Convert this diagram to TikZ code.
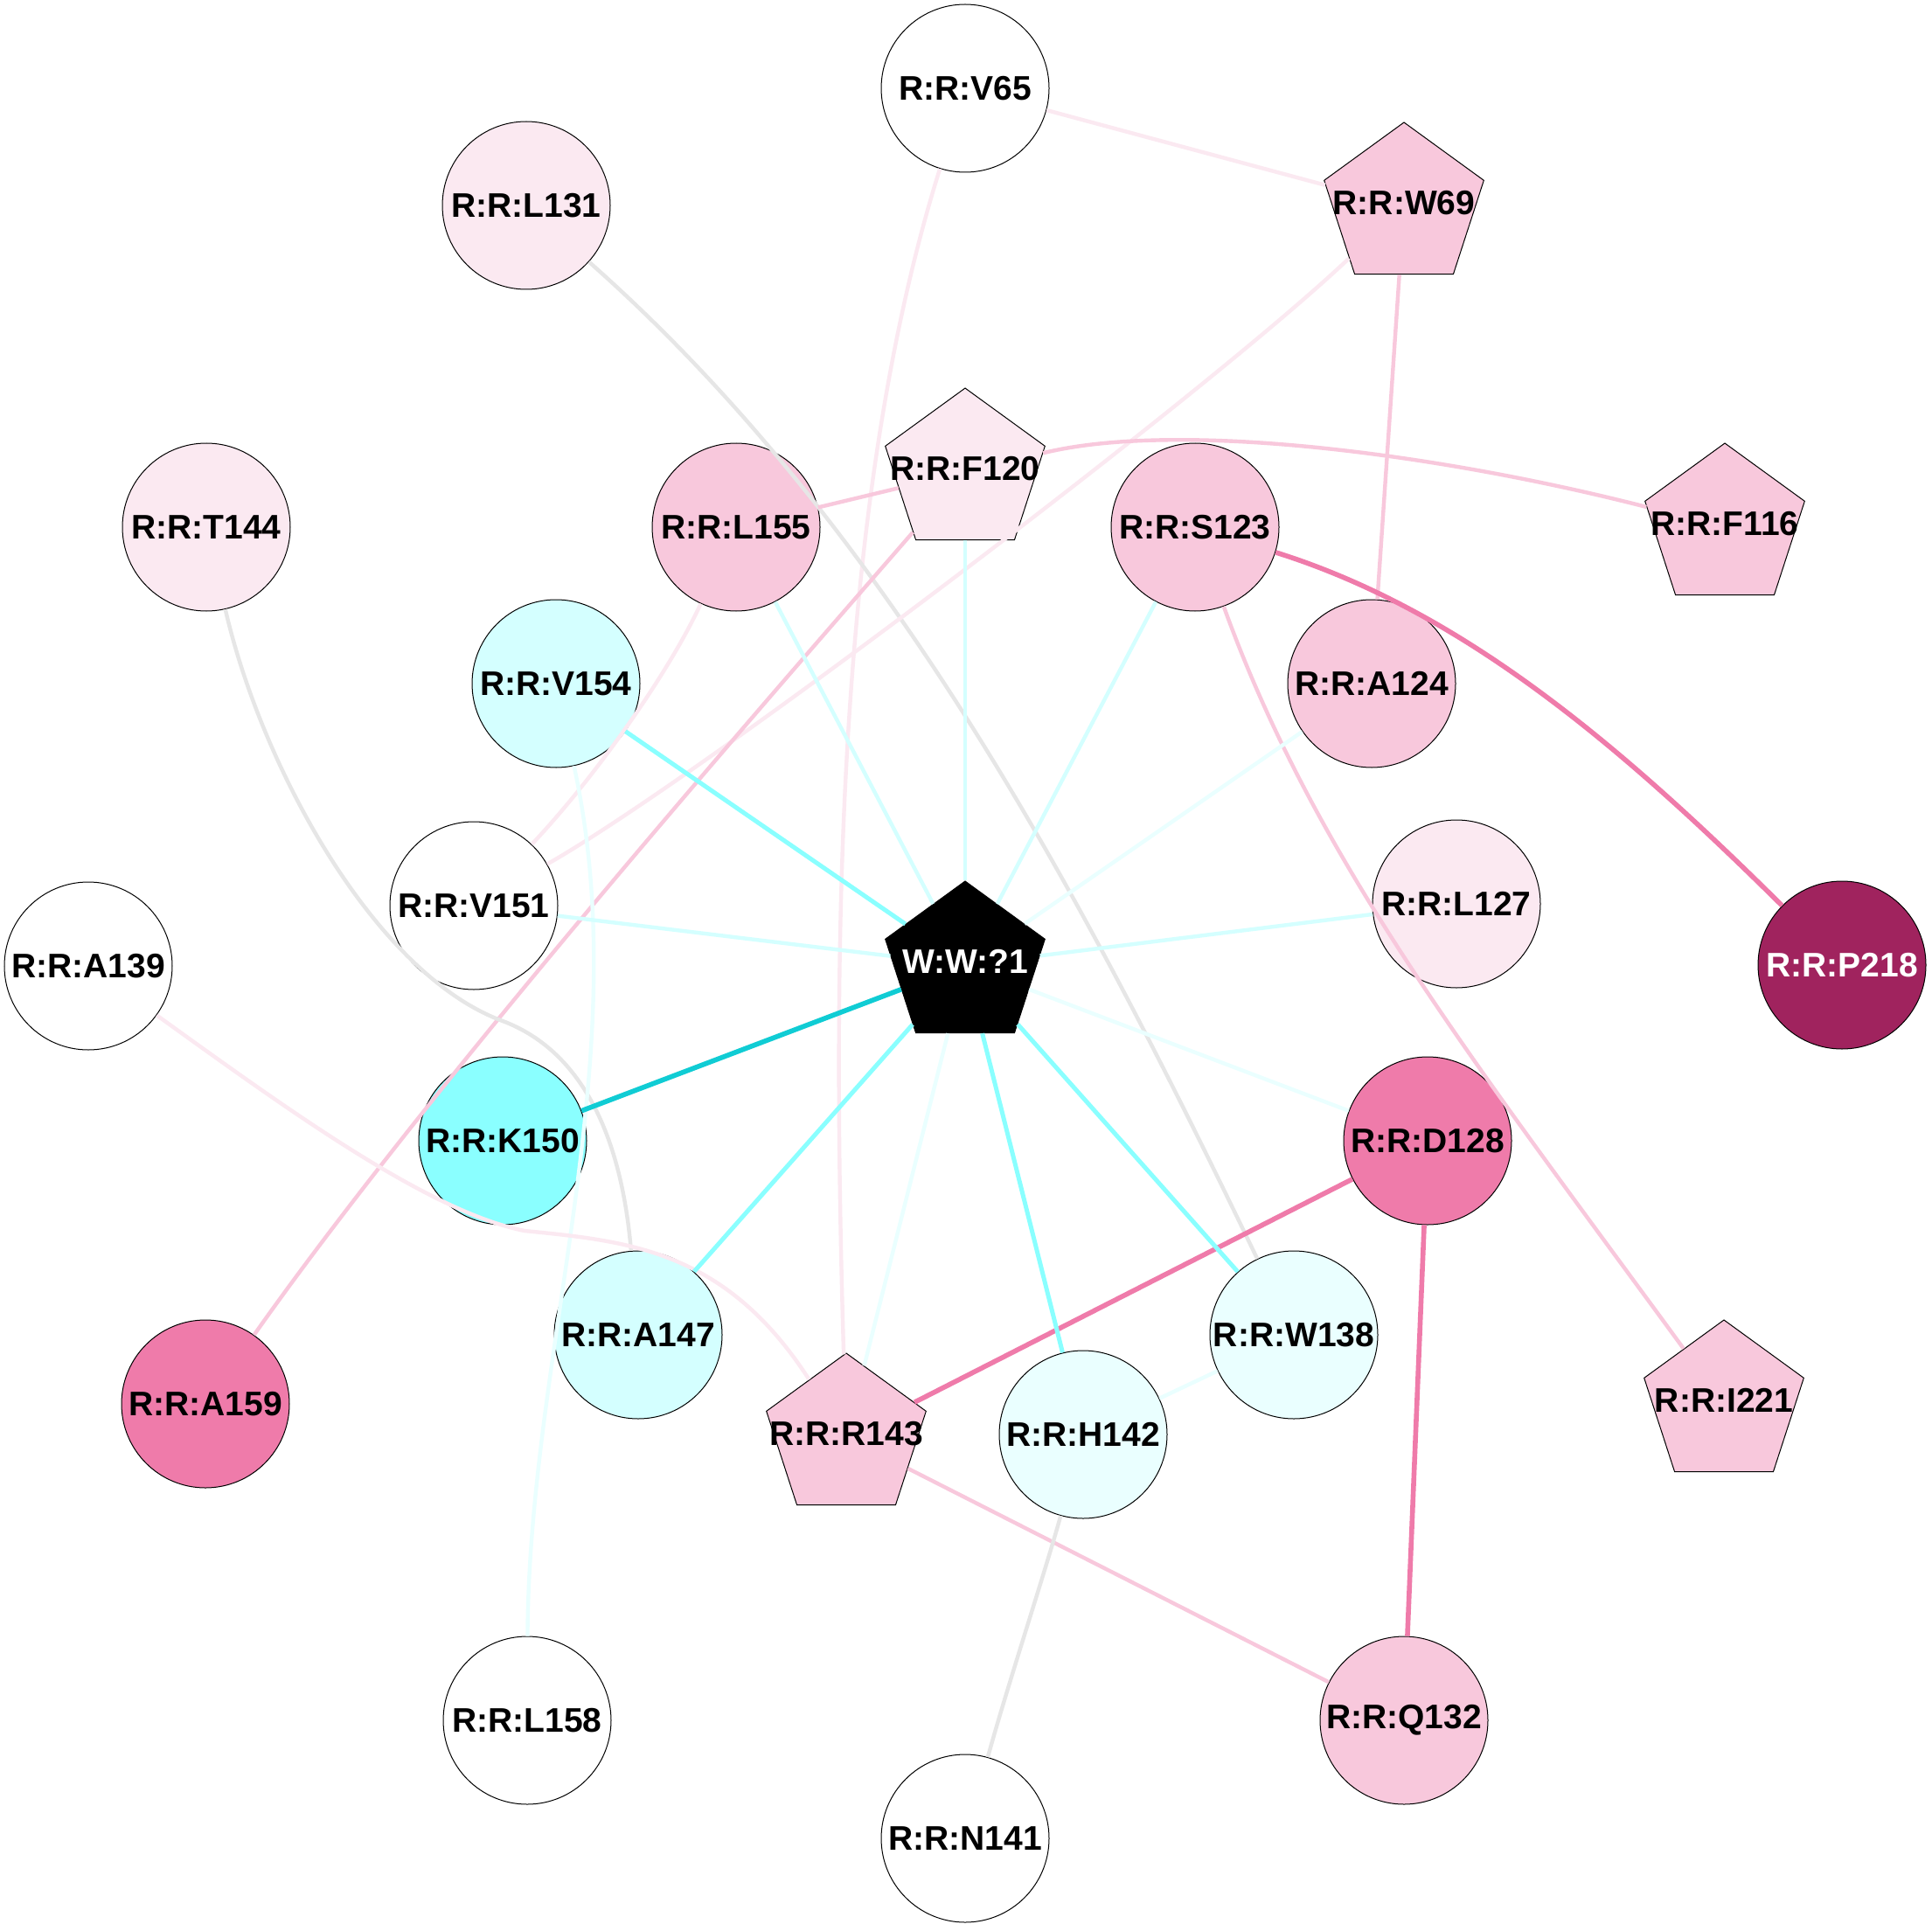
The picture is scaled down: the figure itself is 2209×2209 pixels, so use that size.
\documentclass[tikz,border=0pt]{standalone}
\usepackage{fontspec}
\setmainfont{Liberation Sans}
\usetikzlibrary{shapes.geometric}
\definecolor{cVLPink}{HTML}{FBE9F1}
\definecolor{cPink}{HTML}{F8C8DC}
\definecolor{cHot}{HTML}{EF7BAA}
\definecolor{cDark}{HTML}{A0235E}
\definecolor{cLCyan}{HTML}{D4FFFF}
\definecolor{cVLCyan}{HTML}{EAFFFF}
\definecolor{cCyan}{HTML}{8AFFFF}
\definecolor{cDCyan}{HTML}{10CCD4}
\definecolor{cGray}{HTML}{E6E6E6}
\tikzset{
  lab/.style={font=\fontsize{19.5}{23}\selectfont\bfseries},
  plab/.style={lab, yshift=2pt},
  res/.style={circle, draw=black, line width=0.5pt, minimum size=96pt, inner sep=0pt, lab},
  pent/.style={regular polygon, regular polygon sides=5, draw=black, line width=0.5pt, minimum size=96pt, inner sep=0pt},
  edge/.style={line width=2.2pt},
  ePink/.style={edge, draw=cPink},
  eVLPink/.style={edge, draw=cVLPink},
  eHot/.style={edge, draw=cHot, line width=2.8pt},
  eGray/.style={edge, draw=cGray},
  eCyan/.style={edge, draw=cCyan, line width=2.5pt},
  eLCyan/.style={edge, draw=cLCyan},
  eVLCyan/.style={edge, draw=cVLCyan},
  eDCyan/.style={edge, draw=cDCyan, line width=2.8pt}
}
\begin{document}
\begin{tikzpicture}[x=0.5pt,y=-0.5pt]
\useasboundingbox (0,0) rectangle (2209,2209);
\fill[white] (0,0) rectangle (2209,2209);
% nodes
\node[res, fill=white] (v65) at (1104,101) {R:R:V65};
\node[res, fill=cVLPink] (l131) at (602,235) {R:R:L131};
\node[pent, fill=cPink, label={[plab]center:{R:R:W69}}] (w69) at (1606,236) {};
\node[pent, fill=cVLPink, label={[plab]center:{R:R:F120}}] (f120) at (1104,540) {};
\node[pent, fill=cPink, label={[plab]center:{R:R:F116}}] (f116) at (1973,603) {};
\node[res, fill=cVLPink] (t144) at (236,603) {R:R:T144};
\node[res, fill=cPink] (l155) at (842,603) {R:R:L155};
\node[res, fill=cPink] (s123) at (1367,603) {R:R:S123};
\node[res, fill=cLCyan] (v154) at (636,782) {R:R:V154};
\node[res, fill=cPink] (a124) at (1569,782) {R:R:A124};
\node[res, fill=white] (v151) at (542,1036) {R:R:V151};
\node[res, fill=cVLPink] (l127) at (1666,1034) {R:R:L127};
\node[pent, fill=black, label={[plab, text=white]center:{W:W:?1}}] (w1) at (1104,1104) {};
\node[res, fill=white] (a139) at (101,1105) {R:R:A139};
\node[res, fill=cDark, text=white] (p218) at (2107,1104) {R:R:P218};
\node[res, fill=cCyan] (k150) at (575,1305) {R:R:K150};
\node[res, fill=cHot] (d128) at (1633,1305) {R:R:D128};
\node[res, fill=cLCyan] (a147) at (730,1527) {R:R:A147};
\node[res, fill=cVLCyan] (w138) at (1480,1527) {R:R:W138};
\node[res, fill=cHot] (a159) at (235,1606) {R:R:A159};
\node[pent, fill=cPink, label={[plab]center:{R:R:I221}}] (i221) at (1972,1606) {};
\node[pent, fill=cPink, label={[plab]center:{R:R:R143}}] (r143) at (968,1644) {};
\node[res, fill=cVLCyan] (h142) at (1239,1641) {R:R:H142};
\node[res, fill=white] (l158) at (603,1968) {R:R:L158};
\node[res, fill=cPink] (q132) at (1606,1968) {R:R:Q132};
\node[res, fill=white] (n141) at (1104,2103) {R:R:N141};
% edges
\draw[eVLPink] (v65) -- (w69);
\draw[eVLPink] (v65) .. controls (960,560) and (950,1050) .. (r143);
\draw[eGray] (l131.-42) .. controls (1017,603) and (1239,1026) .. (w138);
\draw[ePink] (w69) -- (a124);
\draw[eVLPink] (w69) .. controls (1380,450) and (800,890) .. (v151);
\draw[ePink] (f120) .. controls (1350,480) and (1650,520) .. (f116);
\draw[ePink] (f120) -- (l155);
\draw[ePink] (f120) .. controls (900,775) and (500,1230) .. (a159);
\draw[eLCyan] (f120) -- (w1);
\draw[eGray] (t144) .. controls (300,880) and (430,1115) .. (575,1168) .. controls (660,1200) and (710,1290) .. (a147);
\draw[eVLPink] (l155) .. controls (765,770) and (680,890) .. (v151);
\draw[eLCyan] (l155) -- (w1);
\draw[eLCyan] (s123) -- (w1);
\draw[eHot] (s123) .. controls (1670,698) and (1849,848) .. (p218);
\draw[ePink] (s123) .. controls (1505,985) and (1687,1216) .. (i221);
\draw[eCyan] (v154) -- (w1);
\draw[eVLCyan] (v154) .. controls (729,1208) and (605,1542) .. (l158);
\draw[eVLCyan] (a124) -- (w1);
\draw[eLCyan] (v151) -- (w1);
\draw[eLCyan] (l127) -- (w1);
\draw[eVLPink] (a139) .. controls (330,1270) and (490,1386) .. (600,1408) .. controls (720,1420) and (830,1430) .. (r143);
\draw[eDCyan] (k150) -- (w1);
\draw[eVLCyan] (d128) -- (w1);
\draw[eHot] (d128) -- (r143);
\draw[eHot] (d128) -- (q132);
\draw[eCyan] (a147) -- (w1);
\draw[eCyan] (w138) -- (w1);
\draw[eCyan] (h142) -- (w1);
\draw[eVLCyan] (r143) -- (w1);
\draw[ePink] (r143) -- (q132);
\draw[eVLCyan] (h142) -- (w138);
\draw[eGray] (h142) .. controls (1195,1800) and (1155,1920) .. (n141);
\end{tikzpicture}
\end{document}
